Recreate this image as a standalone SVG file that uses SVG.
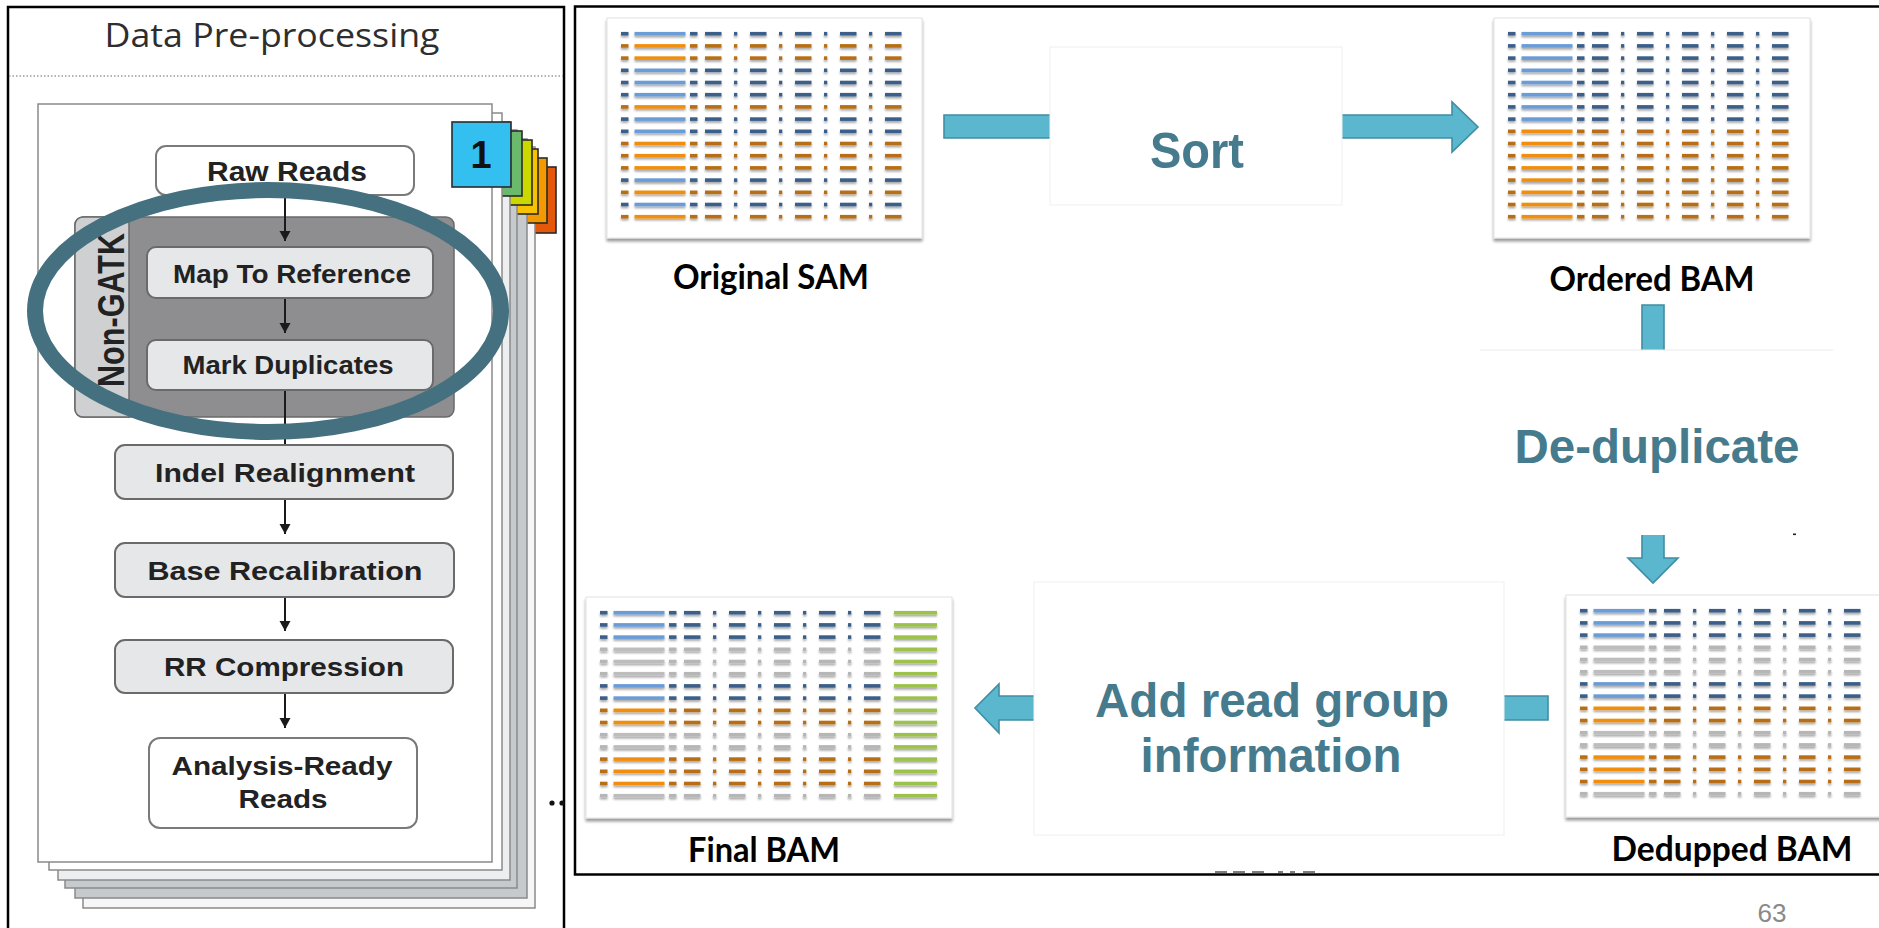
<svg xmlns="http://www.w3.org/2000/svg" xmlns:xlink="http://www.w3.org/1999/xlink" width="1879" height="928" viewBox="0 0 1879 928">
  <style>
    .frame { fill: none; stroke: #000; stroke-width: 2.5; }
    .step { fill: #e6e7e9; stroke: #6a6a6a; stroke-width: 2; }
    .io { fill: #fff; stroke: #7a7a7a; stroke-width: 2; }
    .lbl { font-family: "Liberation Sans", Arial, sans-serif; font-weight: bold; fill: #222; text-anchor: middle; }
    .page { stroke: #8a8a8a; stroke-width: 1.5; }
    .tab { stroke: #2a2a2a; stroke-width: 1.6; }
    .sheet { fill: #fff; stroke: #e2e2e2; stroke-width: 1; }
    .cap { font-family: Lato, "Liberation Sans", sans-serif; font-weight: bold; fill: #000; text-anchor: middle; }
    .op { font-family: "Liberation Sans", Arial, sans-serif; font-weight: bold; fill: #467a8d; text-anchor: middle; }
    .opbox { fill: #fff; stroke: #efefef; stroke-width: 1; }
    .big { fill: #5ab7cd; stroke: #3f8ea3; stroke-width: 1.6; stroke-linejoin: miter; }
    .flow { stroke: #1a1a1a; stroke-width: 2; fill: none; }
  </style>
  <defs>
    <marker id="ah" markerUnits="userSpaceOnUse" markerWidth="12" markerHeight="12" refX="10" refY="6" orient="auto">
      <path d="M0,0.5 L10,6 L0,11.5 Z" fill="#1a1a1a"/>
    </marker>
    <!-- soft shadow under each read bar -->
    <filter id="soft" x="-5%" y="-5%" width="110%" height="115%">
      <feGaussianBlur in="SourceAlpha" stdDeviation="1.1" result="b"/>
      <feOffset in="b" dy="2.3" result="o"/>
      <feComponentTransfer in="o" result="s"><feFuncA type="linear" slope="0.35"/></feComponentTransfer>
      <feGaussianBlur in="SourceGraphic" stdDeviation="0.35" result="g"/>
      <feMerge><feMergeNode in="s"/><feMergeNode in="g"/></feMerge>
    </filter>
    <filter id="drop" x="-5%" y="-5%" width="110%" height="112%">
      <feGaussianBlur in="SourceAlpha" stdDeviation="1.4" result="b"/>
      <feOffset in="b" dy="3" result="o"/>
      <feComponentTransfer in="o" result="s"><feFuncA type="linear" slope="0.4"/></feComponentTransfer>
      <feMerge><feMergeNode in="s"/><feMergeNode in="SourceGraphic"/></feMerge>
    </filter>
    <!-- one read row: short pieces and the long bar -->
    <g id="bits">
      <rect x="14" y="-1.8" width="7.5" height="3.6"/>
      <rect x="83" y="-1.8" width="7.5" height="3.6"/>
      <rect x="98" y="-1.8" width="16.5" height="3.6"/>
      <rect x="127" y="-1.8" width="3.3" height="3.6"/>
      <rect x="143" y="-1.8" width="16.5" height="3.6"/>
      <rect x="172" y="-1.8" width="3.3" height="3.6"/>
      <rect x="188" y="-1.8" width="16.5" height="3.6"/>
      <rect x="217" y="-1.8" width="3.3" height="3.6"/>
      <rect x="233" y="-1.8" width="16.5" height="3.6"/>
      <rect x="262" y="-1.8" width="3.3" height="3.6"/>
      <rect x="278" y="-1.8" width="16.5" height="3.6"/>
    </g>
    <rect id="bar" x="27.5" y="-1.8" width="51" height="3.6"/>
    <g id="rowB"><use href="#bits" fill="#3a5e88"/><use href="#bar" fill="#6b9cd8"/></g>
    <g id="rowO"><use href="#bits" fill="#b86e12"/><use href="#bar" fill="#f28e0c"/></g>
    <g id="rowG"><use href="#bits" fill="#b6b6b6"/><use href="#bar" fill="#bdbdbd"/></g>
    <rect id="tag" x="308" y="-1.8" width="43" height="3.6" fill="#9cc24c"/>
  </defs>

  <rect width="1879" height="928" fill="#fff"/>

  <!-- ===== Left panel: pre-processing workflow ===== -->
  <g id="left-panel">
    <rect class="frame" x="8" y="7" width="556" height="940"/>
    <text x="272" y="47" font-family="'Open Sans', 'Noto Sans', sans-serif" font-weight="400" font-size="33" fill="#2e2e2e" text-anchor="middle" textLength="335" lengthAdjust="spacingAndGlyphs">Data Pre-processing</text>
    <line x1="9" y1="76" x2="563" y2="76" stroke="#9a9a9a" stroke-width="1.5" stroke-dasharray="1.5 2"/>
  </g>

  <!-- stacked pages with coloured tabs, back to front -->
  <g id="page-stack">
    <rect class="tab" x="497" y="167" width="59" height="66" fill="#e4580c"/>
    <rect class="page" x="83" y="147" width="452" height="761" fill="#f6f6f6"/>
    <rect class="tab" x="488" y="158" width="59" height="65" fill="#f39a00"/>
    <rect class="page" x="75" y="139" width="452" height="759" fill="#c7cacd"/>
    <rect class="tab" x="479" y="149" width="59" height="65" fill="#f7c200"/>
    <rect class="page" x="65" y="130" width="452" height="758" fill="#c7cacd"/>
    <rect class="tab" x="473" y="140" width="59" height="65" fill="#cbd800"/>
    <rect class="page" x="58" y="122" width="452" height="758" fill="#eceef0"/>
    <rect class="tab" x="463" y="131" width="59" height="65" fill="#6ab96d"/>
    <rect class="page" x="49" y="113" width="453" height="757" fill="#fff"/>
    <rect class="page" x="38" y="104" width="454" height="758" fill="#fff" stroke="#9a9a9a"/>
    <rect class="tab" x="452" y="122" width="59" height="65" fill="#33bff0"/>
    <text x="481" y="168" font-family="'Liberation Sans', Arial, sans-serif" font-weight="bold" font-size="38" fill="#111" text-anchor="middle">1</text>
  </g>

  <g id="more-dots" fill="#111">
    <circle cx="552" cy="803" r="2.6"/>
    <circle cx="562" cy="803" r="2.6"/>
  </g>

  <g id="non-gatk">
    <rect x="75" y="217" width="379" height="200" rx="8" fill="#8e8e90" stroke="#6a6a6a" stroke-width="1.5"/>
    <path d="M83,217 H129 V417 H83 A8,8 0 0 1 75,409 V225 A8,8 0 0 1 83,217 Z" fill="#cfd0d2" stroke="#6a6a6a" stroke-width="1.5"/>
    <text class="lbl" font-size="30" transform="translate(124,310) rotate(-90) scale(1,1.2)" textLength="154" lengthAdjust="spacingAndGlyphs">Non-GATK</text>
  </g>

  <g id="raw-reads">
    <rect class="io" x="156" y="146" width="258" height="49" rx="10"/>
    <text class="lbl" x="287" y="181" font-size="27" textLength="160" lengthAdjust="spacingAndGlyphs">Raw Reads</text>
  </g>
  <g id="map-to-reference">
    <rect class="step" x="147" y="247" width="286" height="51" rx="9"/>
    <text class="lbl" x="292" y="283" font-size="25" textLength="238" lengthAdjust="spacingAndGlyphs">Map To Reference</text>
  </g>
  <g id="mark-duplicates">
    <rect class="step" x="147" y="340" width="286" height="50" rx="9"/>
    <text class="lbl" x="288" y="374" font-size="25" textLength="211" lengthAdjust="spacingAndGlyphs">Mark Duplicates</text>
  </g>
  <g id="indel-realignment">
    <rect class="step" x="115" y="445" width="338" height="54" rx="10"/>
    <text class="lbl" x="285" y="482" font-size="26" textLength="260" lengthAdjust="spacingAndGlyphs">Indel Realignment</text>
  </g>
  <g id="base-recalibration">
    <rect class="step" x="115" y="543" width="339" height="54" rx="10"/>
    <text class="lbl" x="285" y="580" font-size="26" textLength="275" lengthAdjust="spacingAndGlyphs">Base Recalibration</text>
  </g>
  <g id="rr-compression">
    <rect class="step" x="115" y="640" width="338" height="53" rx="10"/>
    <text class="lbl" x="284" y="676" font-size="26" textLength="240" lengthAdjust="spacingAndGlyphs">RR Compression</text>
  </g>
  <g id="analysis-ready-reads">
    <rect class="io" x="149" y="738" width="268" height="90" rx="11"/>
    <text class="lbl" x="282" y="775" font-size="26" textLength="221" lengthAdjust="spacingAndGlyphs">Analysis-Ready</text>
    <text class="lbl" x="283" y="808" font-size="26" textLength="89" lengthAdjust="spacingAndGlyphs">Reads</text>
  </g>

  <g id="workflow-arrows">
    <line class="flow" x1="285" y1="195" x2="285" y2="241" marker-end="url(#ah)"/>
    <line class="flow" x1="285" y1="299" x2="285" y2="333" marker-end="url(#ah)"/>
    <line class="flow" x1="285" y1="391" x2="285" y2="444"/>
    <line class="flow" x1="285" y1="500" x2="285" y2="534" marker-end="url(#ah)"/>
    <line class="flow" x1="285" y1="598" x2="285" y2="631" marker-end="url(#ah)"/>
    <line class="flow" x1="285" y1="694" x2="285" y2="728" marker-end="url(#ah)"/>
  </g>

  <ellipse id="highlight" cx="268" cy="311" rx="233" ry="121" fill="none" stroke="#44707f" stroke-width="16"/>

  <!-- ===== Right panel: file transformations ===== -->
  <g id="right-panel">
    <rect class="frame" x="575" y="6.5" width="1320" height="868"/>
  </g>

  <g id="connectors">
    <path class="big" d="M944,115 H1452 V102 L1478,127 L1452,152 V138 H944 Z"/>
    <path class="big" d="M1642,305 H1664 V558 H1678 L1653,583 L1628,558 H1642 Z"/>
    <path class="big" d="M1548,696 V720 H999 V733 L975,708 L999,684 V696 Z"/>
  </g>

  <g id="sort">
    <rect class="opbox" x="1050" y="47" width="292" height="158"/>
    <text class="op" x="1197" y="168" font-size="50" textLength="94" lengthAdjust="spacingAndGlyphs">Sort</text>
  </g>
  <g id="de-duplicate">
    <rect x="1480" y="350" width="353" height="185" fill="#fff"/>
    <line x1="1480" y1="350" x2="1833" y2="350" stroke="#ebebeb" stroke-width="1.2"/>
    <text class="op" x="1657" y="463" font-size="48" textLength="285" lengthAdjust="spacingAndGlyphs">De-duplicate</text>
    <rect x="1793" y="533.5" width="3" height="1.6" fill="#222"/>
  </g>
  <g id="add-read-group">
    <rect class="opbox" x="1034" y="582" width="470" height="253"/>
    <text class="op" x="1272" y="717" font-size="48" textLength="354" lengthAdjust="spacingAndGlyphs">Add read group</text>
    <text class="op" x="1271" y="772" font-size="48" textLength="261" lengthAdjust="spacingAndGlyphs">information</text>
  </g>

  <g id="original-sam">
    <g transform="translate(607,18)">
      <rect class="sheet" width="315" height="220" filter="url(#drop)"/>
      <g filter="url(#soft)">
        <use href="#rowB" y="15.7"/>
        <use href="#rowO" y="27.9"/>
        <use href="#rowO" y="40.1"/>
        <use href="#rowB" y="52.3"/>
        <use href="#rowB" y="64.5"/>
        <use href="#rowB" y="76.7"/>
        <use href="#rowO" y="88.9"/>
        <use href="#rowB" y="101.1"/>
        <use href="#rowB" y="113.3"/>
        <use href="#rowO" y="125.5"/>
        <use href="#rowO" y="137.7"/>
        <use href="#rowO" y="149.9"/>
        <use href="#rowB" y="162.1"/>
        <use href="#rowO" y="174.3"/>
        <use href="#rowB" y="186.5"/>
        <use href="#rowO" y="198.7"/>
      </g>
    </g>
    <text class="cap" x="771" y="289" font-size="35" textLength="196" lengthAdjust="spacingAndGlyphs">Original SAM</text>
  </g>

  <g id="ordered-bam">
    <g transform="translate(1494,18)">
      <rect class="sheet" width="316" height="220" filter="url(#drop)"/>
      <g filter="url(#soft)">
        <use href="#rowB" y="15.7"/>
        <use href="#rowB" y="27.9"/>
        <use href="#rowB" y="40.1"/>
        <use href="#rowB" y="52.3"/>
        <use href="#rowB" y="64.5"/>
        <use href="#rowB" y="76.7"/>
        <use href="#rowB" y="88.9"/>
        <use href="#rowB" y="101.1"/>
        <use href="#rowO" y="113.3"/>
        <use href="#rowO" y="125.5"/>
        <use href="#rowO" y="137.7"/>
        <use href="#rowO" y="149.9"/>
        <use href="#rowO" y="162.1"/>
        <use href="#rowO" y="174.3"/>
        <use href="#rowO" y="186.5"/>
        <use href="#rowO" y="198.7"/>
      </g>
    </g>
    <text class="cap" x="1652" y="291" font-size="35" textLength="205" lengthAdjust="spacingAndGlyphs">Ordered BAM</text>
  </g>

  <g id="dedupped-bam">
    <g transform="translate(1566,595)">
      <rect class="sheet" width="330" height="222" filter="url(#drop)"/>
      <g filter="url(#soft)">
        <use href="#rowB" y="15.7"/>
        <use href="#rowB" y="27.9"/>
        <use href="#rowB" y="40.1"/>
        <use href="#rowG" y="52.3"/>
        <use href="#rowG" y="64.5"/>
        <use href="#rowG" y="76.7"/>
        <use href="#rowB" y="88.9"/>
        <use href="#rowB" y="101.1"/>
        <use href="#rowO" y="113.3"/>
        <use href="#rowO" y="125.5"/>
        <use href="#rowG" y="137.7"/>
        <use href="#rowG" y="149.9"/>
        <use href="#rowO" y="162.1"/>
        <use href="#rowO" y="174.3"/>
        <use href="#rowO" y="186.5"/>
        <use href="#rowG" y="198.7"/>
      </g>
    </g>
    <text class="cap" x="1732" y="861" font-size="35" textLength="241" lengthAdjust="spacingAndGlyphs">Dedupped BAM</text>
  </g>

  <g id="final-bam">
    <g transform="translate(586,597)">
      <rect class="sheet" width="366" height="221" filter="url(#drop)"/>
      <g filter="url(#soft)">
        <use href="#rowB" y="15.7"/>
        <use href="#rowB" y="27.9"/>
        <use href="#rowB" y="40.1"/>
        <use href="#rowG" y="52.3"/>
        <use href="#rowG" y="64.5"/>
        <use href="#rowG" y="76.7"/>
        <use href="#rowB" y="88.9"/>
        <use href="#rowB" y="101.1"/>
        <use href="#rowO" y="113.3"/>
        <use href="#rowO" y="125.5"/>
        <use href="#rowG" y="137.7"/>
        <use href="#rowG" y="149.9"/>
        <use href="#rowO" y="162.1"/>
        <use href="#rowO" y="174.3"/>
        <use href="#rowO" y="186.5"/>
        <use href="#rowG" y="198.7"/>
        <use href="#tag" y="15.7"/>
        <use href="#tag" y="27.9"/>
        <use href="#tag" y="40.1"/>
        <use href="#tag" y="52.3"/>
        <use href="#tag" y="64.5"/>
        <use href="#tag" y="76.7"/>
        <use href="#tag" y="88.9"/>
        <use href="#tag" y="101.1"/>
        <use href="#tag" y="113.3"/>
        <use href="#tag" y="125.5"/>
        <use href="#tag" y="137.7"/>
        <use href="#tag" y="149.9"/>
        <use href="#tag" y="162.1"/>
        <use href="#tag" y="174.3"/>
        <use href="#tag" y="186.5"/>
        <use href="#tag" y="198.7"/>
      </g>
    </g>
    <text class="cap" x="764" y="862" font-size="35" textLength="152" lengthAdjust="spacingAndGlyphs">Final BAM</text>
  </g>

  <!-- clipped remnants sitting on the bottom rule -->
  <g id="remnants" fill="#2a2a2a" opacity="0.6">
    <rect x="1215" y="871" width="12" height="2"/>
    <rect x="1233" y="871" width="12" height="2"/>
    <rect x="1252" y="871" width="12" height="2"/>
    <rect x="1278" y="871" width="5" height="2"/>
    <rect x="1290" y="871" width="5" height="2"/>
    <rect x="1303" y="871" width="12" height="2"/>
  </g>

  <text id="page-number" x="1772" y="922" font-family="'Liberation Sans', Arial, sans-serif" font-size="26" fill="#8a8a8a" text-anchor="middle" textLength="29" lengthAdjust="spacingAndGlyphs">63</text>
</svg>
